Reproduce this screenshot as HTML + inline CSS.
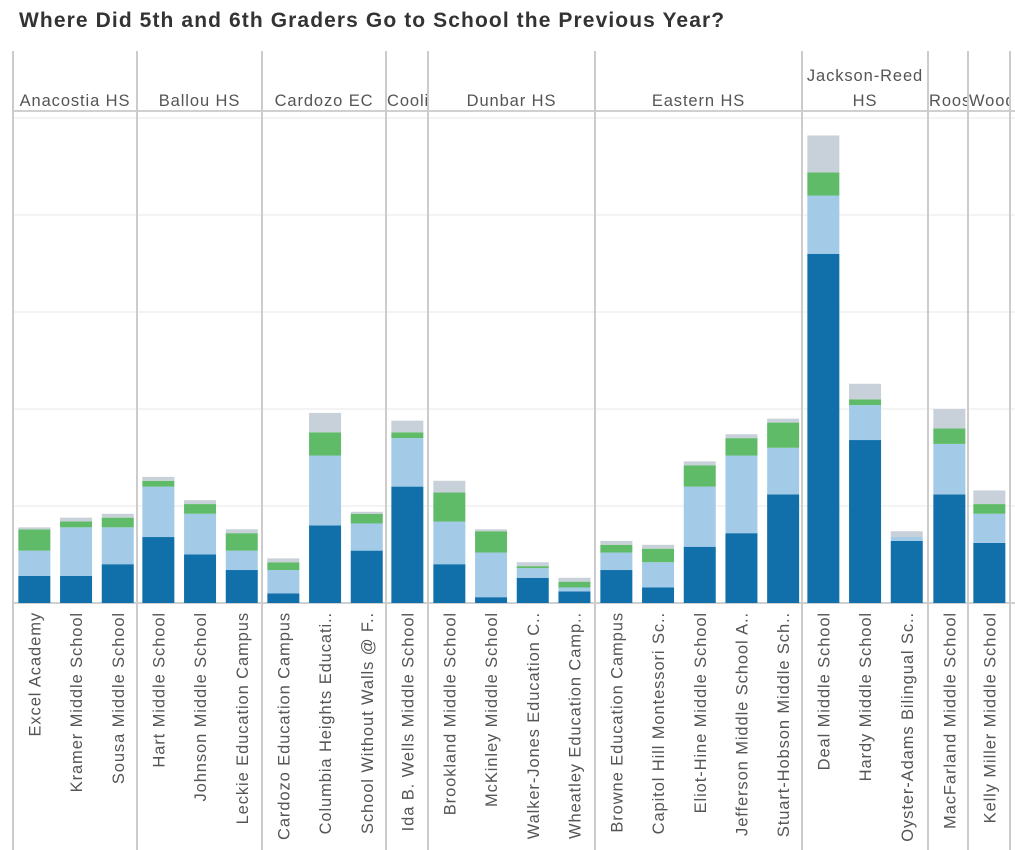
<!DOCTYPE html>
<html><head><meta charset="utf-8"><style>
html,body{margin:0;padding:0;background:#fff;width:1015px;height:850px;overflow:hidden;font-family:"Liberation Sans",sans-serif}
#title{position:absolute;left:19px;top:9px;font-size:21px;font-weight:bold;color:#333;letter-spacing:1.1px}
</style></head><body>
<div id="title">Where Did 5th and 6th Graders Go to School the Previous Year?</div>
<svg id="chart" width="1015" height="850" style="position:absolute;left:0;top:0"></svg>
<script>
const groups=["Anacostia HS","Ballou HS","Cardozo EC","Coolidge HS","Dunbar HS","Eastern HS","Jackson-Reed HS","Roosevelt HS","Woodson HS"];
const groupCounts=[3,3,3,1,4,5,3,1,1];
const schools=["Excel Academy","Kramer Middle School","Sousa Middle School","Hart Middle School","Johnson Middle School","Leckie Education Campus","Cardozo Education Campus","Columbia Heights Educati..","School Without Walls @ F..","Ida B. Wells Middle School","Brookland Middle School","McKinley Middle School","Walker-Jones Education C..","Wheatley Education Camp..","Browne Education Campus","Capitol Hill Montessori Sc..","Eliot-Hine Middle School","Jefferson Middle School A..","Stuart-Hobson Middle Sch..","Deal Middle School","Hardy Middle School","Oyster-Adams Bilingual Sc..","MacFarland Middle School","Kelly Miller Middle School"];
const sameFeeder=[14,14,20,34,25,17,5,40,27,60,20,3,13,6,17,8,29,36,56,180,84,32,56,31];
const otherDCPS=[13,25,19,26,21,10,12,36,14,25,22,23,5,2,9,13,31,40,24,30,18,2,26,15];
const charter=[11,3,5,3,5,9,4,12,5,3,15,11,1,3,4,7,11,9,13,12,3,0,8,5];
const otherSrc=[1,2,2,2,2,2,2,10,1,6,6,1,2,2,2,2,2,2,2,19,8,3,10,7];
const yTicks=[0,50,100,150,200,250];

const NS="http://www.w3.org/2000/svg";
const svg=document.getElementById('chart');
function mk(t,a,p){const e=document.createElementNS(NS,t);for(const k in a)e.setAttribute(k,a[k]);(p||svg).appendChild(e);return e;}
const base=603, pxPer=485/250;
const y=v=>base-v*pxPer;
const seps=[13,137,262,386,428,595,802,928,968,1010];
const colW=41.7;
const xc=i=>{let g=0,c=0;for(;g<groupCounts.length;g++){if(i<c+groupCounts[g])break;c+=groupCounts[g];}return seps[g]+(i-c)*colW+colW/2+0.5;};

yTicks.forEach(t=>{const l=mk('line',{x1:13,x2:1015,y1:y(t),y2:y(t),stroke:t===0?'#d0d0d0':'#f0f0f0','stroke-width':t===0?2:1.5});
});
mk('line',{x1:13,x2:1015,y1:111,y2:111,stroke:'#d0d0d0','stroke-width':2});

seps.forEach(s=>{const l=mk('line',{x1:s,x2:s,y1:51,y2:850,stroke:'#cccccc','stroke-width':2});
});

groups.forEach((g,gi)=>{
  const x1=seps[gi],x2=seps[gi+1];
  const cp=mk('clipPath',{id:'cp'+gi});mk('rect',{x:x1+1,y:50,width:x2-x1-2,height:60},cp);
  const grp=mk('g',{'clip-path':'url(#cp'+gi+')'});
  const w=x2-x1; const lines=(g==="Jackson-Reed HS")?["Jackson-Reed","HS"]:[g];
  const fits=w>100;
  lines.forEach((ln,li)=>{
    const t=mk('text',{x:fits?(x1+x2)/2:x1+1,y:lines.length>1?(li?106:81):106,'text-anchor':fits?'middle':'start','font-size':16.5,'letter-spacing':0.9,fill:'#555','font-family':'"Liberation Sans",sans-serif'},grp);
    t.textContent=ln;
    
  });
});

const series=[[sameFeeder,'#1170aa'],[otherDCPS,'#a3cbe8'],[charter,'#5fbb68'],[otherSrc,'#c8d0d9']];
schools.forEach((s,i)=>{
  const cx=xc(i); let acc=0;
  series.forEach(([arr,col])=>{
    const v=arr[i]; if(v<=0)return;
    const r=mk('rect',{x:cx-16,y:y(acc+v),width:32,height:v*pxPer,fill:col});
    
    acc+=v;
  });
  const t=mk('text',{x:0,y:0,transform:`translate(${cx+6},612) rotate(-90)`,'text-anchor':'end','font-size':16.5,'letter-spacing':0.9,fill:'#555','font-family':'"Liberation Sans",sans-serif'});
  t.textContent=s;
  
});
</script>
</body></html>
